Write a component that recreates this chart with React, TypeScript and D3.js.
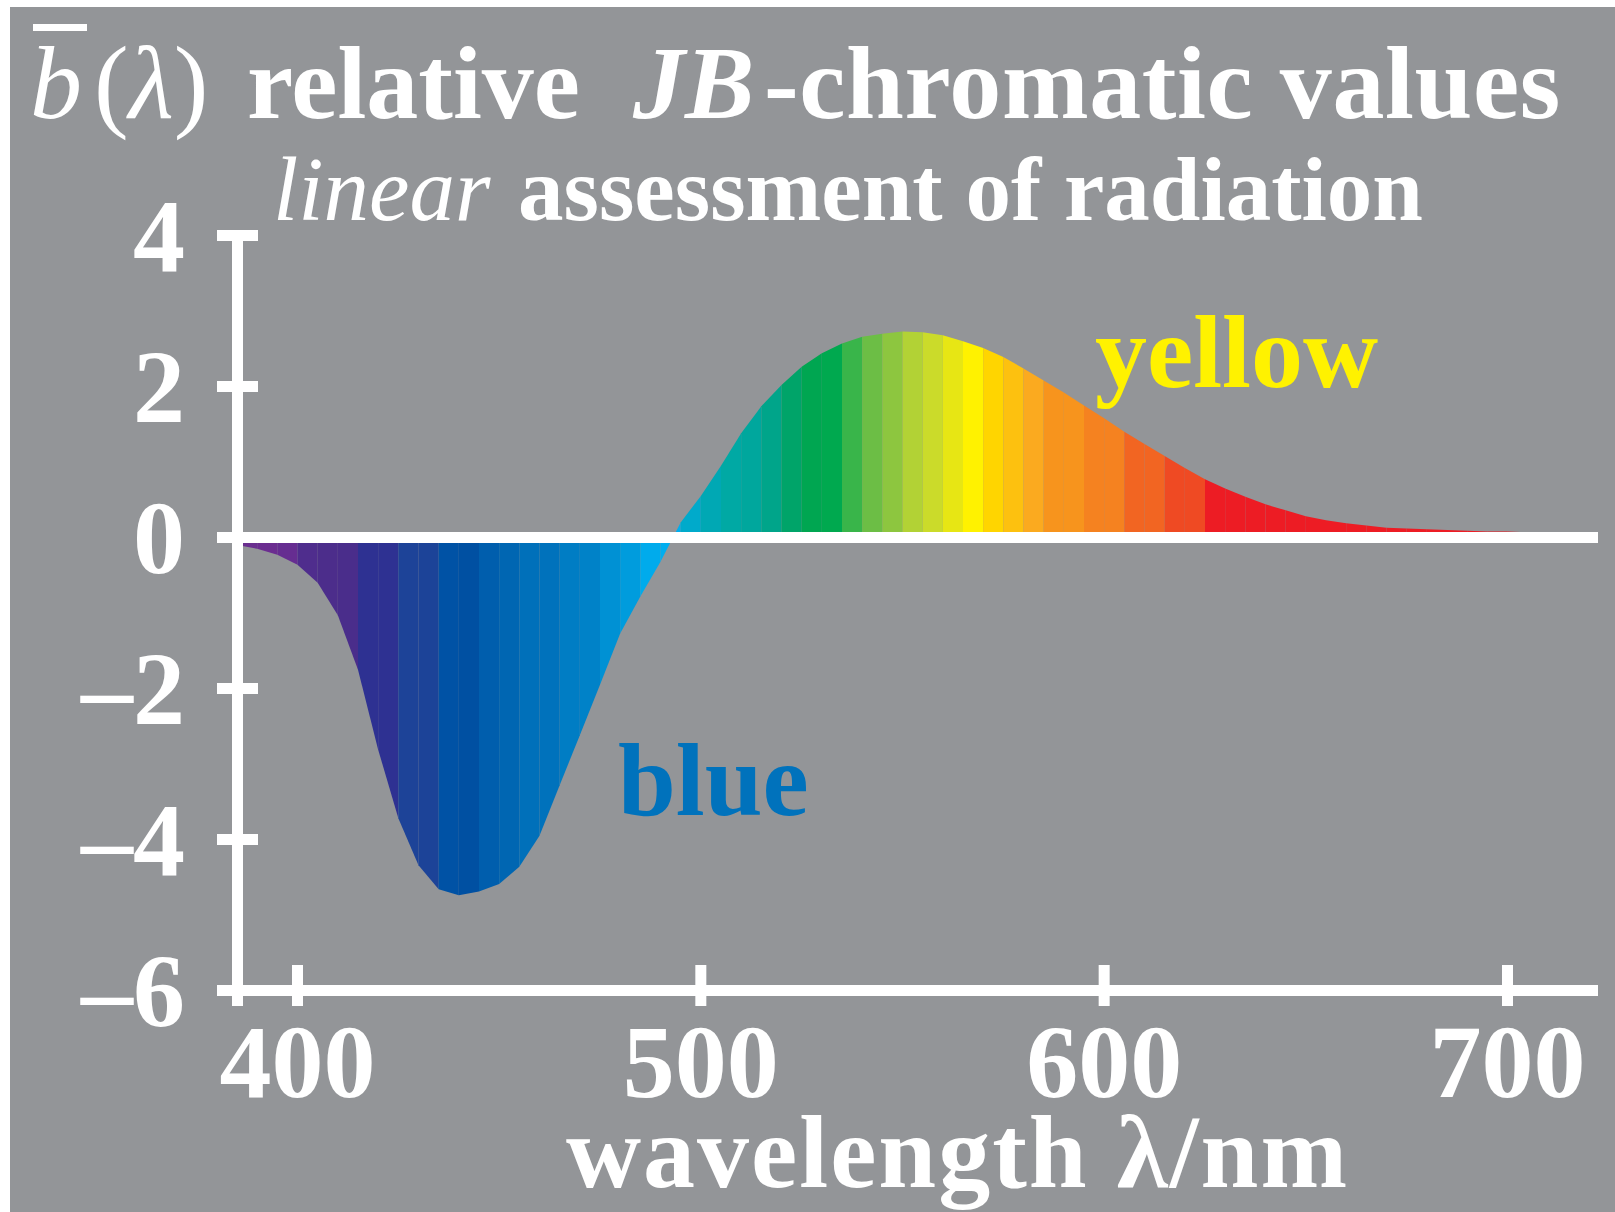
import React from "react";
import * as d3 from "d3";

const wavelengths = [
  385, 390, 395, 400, 405, 410, 415, 420, 425, 430, 435, 440, 445, 450, 455, 460, 465, 470, 475, 480,
  485, 490, 495, 500, 505, 510, 515, 520, 525, 530, 535, 540, 545, 550, 555, 560, 565, 570, 575, 580,
  585, 590, 595, 600, 605, 610, 615, 620, 625, 630, 635, 640, 645, 650, 655, 660, 665, 670, 675, 680,
  685, 690, 695, 700, 705, 710,
];
const bValues = [
  -0.1, -0.15, -0.23, -0.36, -0.6, -1.03, -1.75, -2.81, -3.72, -4.34, -4.66, -4.74, -4.69, -4.59, -4.36, -3.95, -3.28, -2.62, -1.95, -1.27,
  -0.78, -0.32, 0.2, 0.55, 0.95, 1.38, 1.74, 2.02, 2.26, 2.44, 2.57, 2.66, 2.7, 2.73, 2.72, 2.68, 2.6, 2.51, 2.39, 2.24,
  2.08, 1.92, 1.75, 1.58, 1.4, 1.24, 1.08, 0.92, 0.77, 0.65, 0.54, 0.44, 0.36, 0.28, 0.23, 0.19, 0.16, 0.13, 0.12, 0.11,
  0.1, 0.09, 0.08, 0.08, 0.07, 0.07,
];
const bandColors = [
  "#6A2F8F", "#6B2D90", "#662D91", "#4F2D8D", "#4C2D8B", "#4A2D8B", "#2E3192", "#2E3192", "#1D4398", "#1C4398",
  "#0052A5", "#0050A2", "#005EAD", "#0066B2", "#0070BA", "#0072BC", "#007DC4", "#0082C8", "#0091D4", "#009CDD",
  "#00ABEC", "#00AEEF", "#00AACB", "#00A8B4", "#00A9A4", "#00A79D", "#00A58A", "#00A469", "#00A651", "#00A94F",
  "#39B54A", "#6CBE45", "#8DC63F", "#B2D235", "#CBDB2A", "#E7E614", "#FFF200", "#FFD500", "#FDC10F", "#FBAA1F",
  "#F7941D", "#F7941D", "#F58220", "#F58220", "#F26522", "#F26522", "#EF4A23", "#EF4A23", "#ED1C24", "#ED1C24",
  "#ED1C24", "#ED1C24", "#ED1C24", "#ED1C24", "#ED1C24", "#ED1C24", "#ED1C24", "#ED1C24", "#ED1C24", "#ED1C24",
  "#ED1C24", "#ED1C24", "#ED1C24", "#ED1C24", "#ED1C24",
];
const xTicks = [400, 500, 600, 700];
const yTicks = [4, 2, 0, -2, -4, -6];
const yTickLabels = ["4", "2", "0", "–2", "–4", "–6"];

const W = 1615;
const H = 1212;
const BG = "#939598";
const FONT = "'Liberation Serif', 'Times New Roman', serif";

export default function App() {
  const x = d3.scaleLinear().domain([400, 700]).range([297.5, 1507.5]);
  const y = d3.scaleLinear().domain([-6, 4]).range([990.5, 235.5]);
  const pts = wavelengths.map((l, i) => ({ l, v: bValues[i] }));
  const area = d3
    .area<{ l: number; v: number }>()
    .x((d) => x(d.l))
    .y0(y(0))
    .y1((d) => y(d.v));

  const axisX = 237.5;
  const lw = 11;

  return (
    <svg
      width={W}
      height={H}
      style={{ position: "absolute", left: 0, top: 0, display: "block" }}
      fontFamily={FONT}
    >
      <rect x={0} y={0} width={W} height={H} fill="#ffffff" />
      <rect x={10} y={7} width={W - 10} height={H - 7} fill={BG} />

      {/* title */}
      <rect x={33} y={24} width={54} height={7} fill="#fff" />
      <text y={118} fontSize={104} fill="#fff">
        <tspan x={30} fontStyle="italic">b</tspan>
        <tspan x={94}>(</tspan>
        <tspan fontStyle="italic">λ</tspan>
        <tspan>)</tspan>
        <tspan x={247} fontWeight="bold">relative</tspan>
        <tspan x={633} fontWeight="bold" fontStyle="italic">JB</tspan>
        <tspan x={764} fontWeight="bold" letterSpacing={0.6}>-chromatic values</tspan>
      </text>
      <text y={220} fontSize={91} fill="#fff">
        <tspan x={273} fontStyle="italic">linear</tspan>
        <tspan x={518} fontWeight="bold">assessment of radiation</tspan>
      </text>

      {/* colored bands */}
      {bandColors.map((c, i) => (
        <path key={i} d={area([pts[i], pts[i + 1]]) || ""} fill={c} />
      ))}

      {/* axes */}
      <line x1={axisX} x2={axisX} y1={y(4) - lw / 2} y2={1006} stroke="#fff" strokeWidth={lw} />
      <line x1={218} x2={1598} y1={y(-6)} y2={y(-6)} stroke="#fff" strokeWidth={lw} />
      <line x1={217} x2={1598} y1={y(0)} y2={y(0)} stroke="#fff" strokeWidth={lw} />
      {yTicks.map((t) => (
        <line key={t} x1={217} x2={258} y1={y(t)} y2={y(t)} stroke="#fff" strokeWidth={lw} />
      ))}
      {xTicks.map((t) => (
        <line key={t} x1={x(t)} x2={x(t)} y1={965} y2={1006} stroke="#fff" strokeWidth={lw} />
      ))}

      {/* tick labels */}
      {yTicks.map((t, i) => (
        <text
          key={t}
          x={185}
          y={y(t) + 35}
          fontSize={104}
          fontWeight="bold"
          fill="#fff"
          textAnchor="end"
        >
          {yTickLabels[i]}
        </text>
      ))}
      {xTicks.map((t) => (
        <text key={t} x={x(t)} y={1097} fontSize={104} fontWeight="bold" fill="#fff" textAnchor="middle">
          {t}
        </text>
      ))}
      <text x={566} y={1187} fontSize={104} fontWeight="bold" fill="#fff" letterSpacing={2}>
        wavelength λ/nm
      </text>

      {/* series labels */}
      <text x={1095} y={387} fontSize={104} fontWeight="bold" fill="#FFF200">
        yellow
      </text>
      <text x={618} y={815} fontSize={104} fontWeight="bold" fill="#0072BC">
        blue
      </text>
    </svg>
  );
}
